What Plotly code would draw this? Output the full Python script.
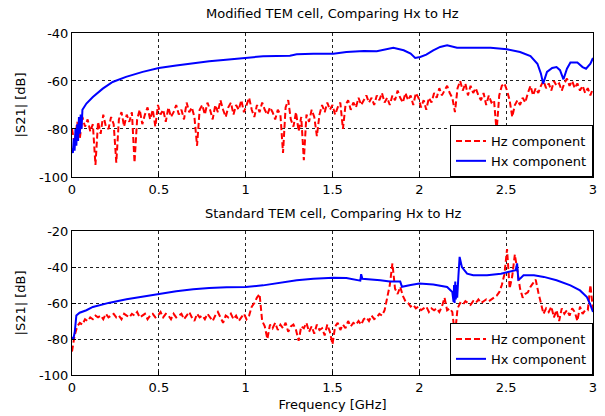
import numpy as np
import plotly.graph_objects as go

# ---------------- data ----------------
freq_step = 0.015  # GHz, sampling grid of the Hz traces
hz_top = [
    -80, -86, -77, -84, -75, -79, -76, -81, -78, -95,
    -77, -82, -74, -79, -80, -75, -78, -94, -76, -73,
    -79, -74, -77, -73, -94, -76, -72, -78, -74, -71,
    -76, -72, -79, -70, -74, -72, -77, -71, -75, -73,
    -70, -74, -72, -76, -69, -73, -71, -75, -87, -72,
    -70, -74, -69, -72, -76, -70, -73, -68, -72, -75,
    -71, -69, -74, -70, -72, -68, -73, -70, -67, -72,
    -75, -70, -73, -69, -72, -74, -71, -73, -76, -72,
    -74, -90, -71, -68, -76, -79, -73, -81, -75, -93,
    -74, -77, -72, -75, -83, -74, -70, -73, -69, -72,
    -70, -74, -71, -69, -80, -70, -68, -72, -69, -71,
    -67, -70, -68, -66, -69, -67, -70, -66, -68, -65,
    -69, -67, -70, -66, -68, -64, -67, -69, -65, -68,
    -66, -70, -65, -67, -71, -68, -72, -67, -69, -65,
    -67, -63, -66, -64, -62, -65, -67, -73, -63, -60,
    -64, -61, -66, -62, -65, -63, -66, -68, -65, -70,
    -66, -69, -68, -81, -66, -62, -61, -64, -68, -75,
    -70, -68, -70, -67, -69, -65, -62, -66, -63, -65,
    -62, -60, -63, -61, -64, -60, -62, -61, -64, -61,
    -59, -62, -60, -63, -61, -64, -62, -65, -63, -66,
    -63,
]
hz_bot = [
    -87, -78, -73, -71, -72, -69, -70, -68, -69, -67,
    -68, -67, -69, -66, -68, -67, -66, -68, -67, -69,
    -66, -67, -68, -66, -67, -65, -68, -67, -66, -69,
    -67, -66, -68, -67, -65, -68, -66, -67, -69, -66,
    -68, -67, -66, -69, -67, -65, -68, -70, -66, -68,
    -67, -69, -66, -68, -70, -67, -65, -68, -71, -67,
    -68, -66, -69, -67, -70, -68, -66, -69, -67, -62,
    -60, -57, -55, -70, -73, -80, -72, -74, -71, -75,
    -72, -74, -71, -76, -73, -72, -75, -81, -73, -74,
    -71, -76, -73, -77, -72, -75, -74, -78, -72, -76,
    -83, -73, -71, -75, -72, -74, -70, -73, -71, -72,
    -70, -72, -69, -68, -70, -67, -69, -68, -66, -67,
    -64, -57, -50, -38, -52, -55, -51, -56, -59, -60,
    -62, -61, -63, -62, -64, -63, -62, -65, -63, -64,
    -63, -65, -62, -57, -64, -63, -65, -78, -63, -60,
    -61, -59, -60, -61, -59, -60, -58, -60, -59, -58,
    -59, -58, -57, -56, -54, -50, -44, -30, -52, -45,
    -33, -42, -52, -57, -55, -54, -51, -49, -47, -54,
    -61, -66, -63, -65, -62, -68, -64, -70, -63, -66,
    -64, -67, -63, -65, -70, -62, -66, -64, -64, -50,
    -64,
]
freq_hz = np.round(np.arange(len(hz_top)) * freq_step, 4)

hx_top_f = [0.0, 0.005, 0.01, 0.015, 0.02, 0.025, 0.03, 0.035, 0.04, 0.045, 0.05, 0.055, 0.06,
            0.083, 0.12, 0.177, 0.234, 0.311, 0.407, 0.5, 0.6, 0.695, 0.79, 0.887, 1.0, 1.1,
            1.255, 1.294, 1.39, 1.505, 1.58, 1.68, 1.755, 1.81, 1.85, 1.91, 1.95, 1.976, 2.005,
            2.04, 2.08, 2.12, 2.16, 2.217, 2.31, 2.41, 2.505, 2.58, 2.64, 2.68, 2.70, 2.713,
            2.735, 2.765, 2.79, 2.81, 2.83, 2.85, 2.87, 2.91, 2.94, 2.96, 2.985, 3.0]
hx_top = [-88, -90, -84, -89, -80, -87, -78, -85, -75, -82, -74, -80, -72,
          -69.4, -66.7, -63.2, -60.4, -58.3, -56.2, -54.6, -53.5, -52.5, -51.8, -51.1, -50.4, -49.7,
          -49.5, -48.9, -48.6, -48.6, -47.9, -47.5, -47.6, -46.8, -46.2, -47.2, -48.6, -50.4, -50,
          -49, -47.2, -45.8, -45.1, -46.1, -46.2, -46.1, -46.8, -47.9, -49.6, -52.8, -56.9, -61.1,
          -56.2, -54.6, -54.2, -55.5, -59.3, -54.9, -52.3, -52.3, -54.2, -54.9, -52.8, -50.4]

hx_bot_f = [0.0, 0.008, 0.016, 0.02, 0.025, 0.044, 0.083, 0.12, 0.217, 0.314, 0.41, 0.5, 0.6,
            0.698, 0.79, 0.89, 1.0, 1.1, 1.2, 1.294, 1.39, 1.505, 1.58, 1.65, 1.66, 1.665, 1.672,
            1.775, 1.83, 1.89, 1.9, 1.95, 2.0, 2.08, 2.16, 2.19, 2.197, 2.2, 2.203, 2.207, 2.21,
            2.214, 2.218, 2.225, 2.232, 2.245, 2.275, 2.31, 2.39, 2.47, 2.52, 2.555, 2.563, 2.57,
            2.58, 2.6, 2.66, 2.717, 2.79, 2.87, 2.925, 2.965, 2.985, 3.0]
hx_bot = [-79, -80, -76, -72, -67, -65.4, -64, -62.2, -59.8, -57.9, -56.3, -54.8, -53.5,
          -52.4, -51.6, -51.3, -51.1, -50.2, -48.7, -47.4, -46.5, -45.9, -46.1, -47.4, -47.6, -44, -46.5,
          -47.4, -48.1, -48.1, -51, -50, -49.2, -49.7, -51.1, -53.9, -59.4, -50, -60, -48, -58,
          -50, -57, -45, -34.4, -40, -43.7, -44.6, -44.6, -43.7, -42.8, -41.8, -38, -47,
          -46.5, -44.6, -44.6, -45.5, -47.4, -50.2, -53, -56.7, -61, -65]

x_ticks = [0, 0.5, 1, 1.5, 2, 2.5, 3]
x_tick_text = ["0", "0.5", "1", "1.5", "2", "2.5", "3"]
top_y_ticks = [-100, -80, -60, -40]
top_y_text = ["-100", "-80", "-60", "-40"]
bot_y_ticks = [-100, -80, -60, -40, -20]
bot_y_text = ["-100", "-80", "-60", "-40", "-20"]

titles = ["Modified TEM cell, Comparing Hx to Hz", "Standard TEM cell, Comparing Hx to Hz"]

# ---------------- figure ----------------
FONT = "DejaVu Sans, Verdana, sans-serif"
RED = "#ff0000"
BLUE = "#0000ff"
DASH = "6px,3px"

fig = go.Figure()
fig.add_trace(go.Scatter(x=freq_hz, y=hz_top, mode="lines", name="Hz component",
                         line=dict(color=RED, width=2, dash=DASH),
                         xaxis="x", yaxis="y", legend="legend"))
fig.add_trace(go.Scatter(x=hx_top_f, y=hx_top, mode="lines", name="Hx component",
                         line=dict(color=BLUE, width=2),
                         xaxis="x", yaxis="y", legend="legend"))
fig.add_trace(go.Scatter(x=freq_hz, y=hz_bot, mode="lines", name="Hz component",
                         line=dict(color=RED, width=2, dash=DASH),
                         xaxis="x2", yaxis="y2", legend="legend2"))
fig.add_trace(go.Scatter(x=hx_bot_f, y=hx_bot, mode="lines", name="Hx component",
                         line=dict(color=BLUE, width=2),
                         xaxis="x2", yaxis="y2", legend="legend2"))

top_dom = [0.579, 1.0]
bot_dom = [0.0, 0.421]

axis_common = dict(showline=True, linecolor="black", linewidth=1, mirror=True,
                   ticks="inside", ticklen=4, tickcolor="black", automargin=False,
                   showgrid=True, gridcolor="#202020", gridwidth=1, griddash="3px,3px",
                   zeroline=False, tickfont=dict(family=FONT, size=13, color="black"))

fig.update_layout(
    width=605, height=416,
    margin=dict(l=72, r=12, t=33, b=41),
    paper_bgcolor="white", plot_bgcolor="white",
    font=dict(family=FONT, size=13, color="black"),
    xaxis=dict(range=[0, 3], tickvals=x_ticks, ticktext=x_tick_text, domain=[0, 1],
               anchor="y", **axis_common),
    yaxis=dict(range=[-100, -40], tickvals=top_y_ticks, ticktext=top_y_text,
               domain=top_dom, anchor="x",
               title=dict(text="|S21| [dB]", standoff=10, font=dict(family=FONT, size=13)),
               **axis_common),
    xaxis2=dict(range=[0, 3], tickvals=x_ticks, ticktext=x_tick_text, domain=[0, 1],
                anchor="y2",
                title=dict(text="Frequency [GHz]", standoff=6, font=dict(family=FONT, size=13)),
                **axis_common),
    yaxis2=dict(range=[-100, -20], tickvals=bot_y_ticks, ticktext=bot_y_text,
                domain=bot_dom, anchor="x2",
                title=dict(text="|S21| [dB]", standoff=10, font=dict(family=FONT, size=13)),
                **axis_common),
    legend=dict(x=1, y=top_dom[0], xanchor="right", yanchor="bottom",
                bgcolor="white", bordercolor="black", borderwidth=1,
                font=dict(family=FONT, size=13), tracegroupgap=0, itemwidth=30,
                traceorder="normal"),
    legend2=dict(x=1, y=bot_dom[0], xanchor="right", yanchor="bottom",
                 bgcolor="white", bordercolor="black", borderwidth=1,
                 font=dict(family=FONT, size=13), tracegroupgap=0, itemwidth=30,
                 traceorder="normal"),
    showlegend=True,
)

for t, dom, ys in zip(titles, [top_dom, bot_dom], [10, 8]):
    fig.add_annotation(text=t, xref="paper", yref="paper", x=0.5, y=dom[1],
                       yanchor="bottom", yshift=ys, showarrow=False,
                       font=dict(family=FONT, size=13, color="black"))

fig.write_html("out.html")
